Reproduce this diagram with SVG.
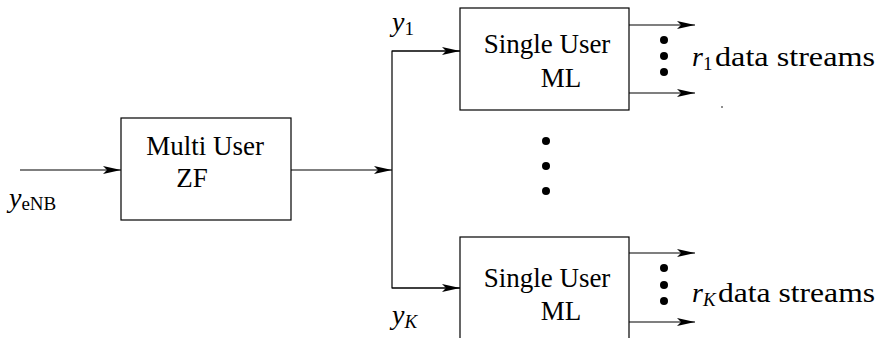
<svg xmlns="http://www.w3.org/2000/svg" width="880" height="338" viewBox="0 0 880 338">
  <style>
    .box { fill: #fff; stroke: #000; stroke-width: 1.2; }
    .wire { fill: none; stroke: #000; stroke-width: 1.2; }
    text { font-family: 'Liberation Serif', 'Times New Roman', 'DejaVu Serif', serif; fill: #000; }
    .lbl { font-size: 27px; text-anchor: middle; }
    .math { font-size: 28px; }
    .mi { font-style: italic; }
    .sub { font-size: 19px; }
    .dot { fill: #000; }
  </style>
  <defs>
    <marker id="arrow" markerUnits="userSpaceOnUse" markerWidth="20" markerHeight="10" refX="18" refY="5" orient="auto">
      <path d="M0,1 L18,5 L0,9 L4,5 Z" fill="#000"/>
    </marker>
  </defs>

  <!-- connectors -->
  <g id="connectors">
    <line class="wire" x1="20" y1="170" x2="121" y2="170" marker-end="url(#arrow)"/>
    <line class="wire" x1="291" y1="170" x2="392" y2="170" marker-end="url(#arrow)"/>
    <polyline class="wire" points="460,51 392,51 392,288 460,288"/>
    <line class="wire" x1="392" y1="51" x2="460" y2="51" marker-end="url(#arrow)"/>
    <line class="wire" x1="392" y1="288" x2="460" y2="288" marker-end="url(#arrow)"/>
    <line class="wire" x1="629" y1="25" x2="695" y2="25" marker-end="url(#arrow)"/>
    <line class="wire" x1="629" y1="93" x2="695" y2="93" marker-end="url(#arrow)"/>
    <line class="wire" x1="629" y1="253" x2="695" y2="253" marker-end="url(#arrow)"/>
    <line class="wire" x1="629" y1="322" x2="695" y2="322" marker-end="url(#arrow)"/>
  </g>

  <!-- multi user zero-forcing stage -->
  <g id="multi-user-zf">
    <rect class="box" x="121" y="118" width="170" height="102"/>
    <text class="lbl" x="205" y="155" font-family="Liberation Serif">Multi User</text>
    <text class="lbl" x="192" y="187" font-family="Liberation Serif">ZF</text>
  </g>

  <!-- per-user ML detector, user 1 -->
  <g id="single-user-ml-1">
    <rect class="box" x="460" y="8" width="169" height="102"/>
    <text class="lbl" x="547" y="53" font-family="Liberation Serif">Single User</text>
    <text class="lbl" x="561" y="87" font-family="Liberation Serif">ML</text>
  </g>

  <!-- per-user ML detector, user K -->
  <g id="single-user-ml-k">
    <rect class="box" x="460" y="237" width="169" height="120"/>
    <text class="lbl" x="547" y="287" font-family="Liberation Serif">Single User</text>
    <text class="lbl" x="561" y="320" font-family="Liberation Serif">ML</text>
  </g>

  <!-- ellipsis between detectors -->
  <g id="ellipsis-users">
    <circle class="dot" cx="546" cy="141" r="4"/>
    <circle class="dot" cx="546" cy="166" r="4"/>
    <circle class="dot" cx="546" cy="191" r="4"/>
  </g>

  <!-- stream ellipses -->
  <g id="ellipsis-streams">
    <circle class="dot" cx="664" cy="40" r="4"/>
    <circle class="dot" cx="664" cy="56" r="4"/>
    <circle class="dot" cx="664" cy="72" r="4"/>
    <circle class="dot" cx="664" cy="268" r="4"/>
    <circle class="dot" cx="664" cy="285" r="4"/>
    <circle class="dot" cx="664" cy="301" r="4"/>
    <circle class="dot" cx="722" cy="107" r="0.8"/>
  </g>

  <!-- signal labels -->
  <g id="labels">
    <text class="math" x="9" y="207" font-family="Liberation Serif"><tspan class="mi">y</tspan><tspan class="sub" dy="3">eNB</tspan></text>
    <text class="math" x="392" y="31" font-family="Liberation Serif"><tspan class="mi">y</tspan><tspan class="sub" dy="4">1</tspan></text>
    <text class="math" x="392" y="324" font-family="Liberation Serif"><tspan class="mi">y</tspan><tspan class="sub mi" dy="4">K</tspan></text>
    <text class="math" x="692" y="66" font-family="Liberation Serif"><tspan class="mi">r</tspan><tspan class="sub" dy="4">1</tspan><tspan dy="-4" x="715" textLength="160" lengthAdjust="spacingAndGlyphs">data streams</tspan></text>
    <text class="math" x="692" y="302" font-family="Liberation Serif"><tspan class="mi">r</tspan><tspan class="sub mi" dy="4">K</tspan><tspan dy="-4" x="718" textLength="157" lengthAdjust="spacingAndGlyphs">data streams</tspan></text>
  </g>
</svg>
